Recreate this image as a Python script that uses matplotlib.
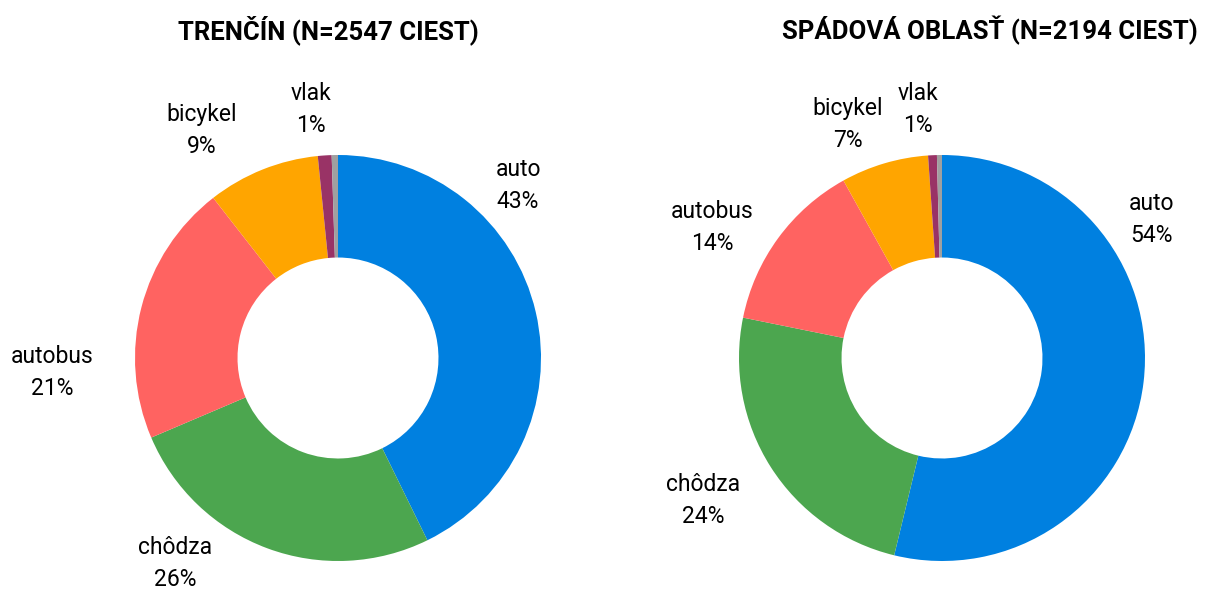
import matplotlib.pyplot as plt

modes = ['auto', 'chôdza', 'autobus', 'bicykel', 'vlak', 'iné']
trencin = [43, 26, 21, 9, 1.1, 0.5]
spadova = [54, 24.5, 13.8, 7, 0.7, 0.4]
trencin_labels = ['auto\n43%', 'chôdza\n26%', 'autobus\n21%', 'bicykel\n9%', 'vlak\n1%', '']
spadova_labels = ['auto\n54%', 'chôdza\n24%', 'autobus\n14%', 'bicykel\n7%', 'vlak\n1%', '']
colors = ['#0080E0', '#4CA64F', '#FF6361', '#FFA500', '#993366', '#A0A0A0']

# label positions (relative to pie radius), chosen to match the reference layout
trencin_pos = [(0.887, 0.852), (-0.803, -1.010), (-1.409, -0.069), (-0.670, 1.123), (-0.133, 1.222)]
spadova_pos = [(1.034, 0.680), (-1.177, -0.700), (-1.133, 0.645), (-0.463, 1.148), (-0.118, 1.222)]

plt.rcParams['font.family'] = ['Roboto', 'DejaVu Sans']

W, H = 1205, 590
fig = plt.figure(figsize=(W / 100, H / 100), dpi=100)

R = 203  # pie radius in px
span = 1.5


def donut(cx, cy, values, labels, pos, title, tx):
    size = 2 * span * R
    ax = fig.add_axes([(cx - size / 2) / W, (H - cy - size / 2) / H, size / W, size / H])
    ax.pie(values, colors=colors, startangle=90, counterclock=False, radius=1,
           wedgeprops=dict(width=0.505, linewidth=0))
    for lab, (x, y) in zip(labels, pos):
        ax.text(x, y, lab, ha='center', va='center', fontsize=16.5, linespacing=1.5)
    ax.set_xlim(-span, span)
    ax.set_ylim(-span, span)
    ax.set_aspect('equal')
    ax.axis('off')
    fig.text(tx / W, 1 - 30 / H, title, ha='center', va='center', fontsize=18.5,
             fontweight='bold')


donut(338, 358, trencin, trencin_labels, trencin_pos, 'TRENČÍN (N=2547 CIEST)', 328)
donut(942, 358, spadova, spadova_labels, spadova_pos, 'SPÁDOVÁ OBLASŤ (N=2194 CIEST)', 990)

fig.savefig('out.png', dpi=100)
